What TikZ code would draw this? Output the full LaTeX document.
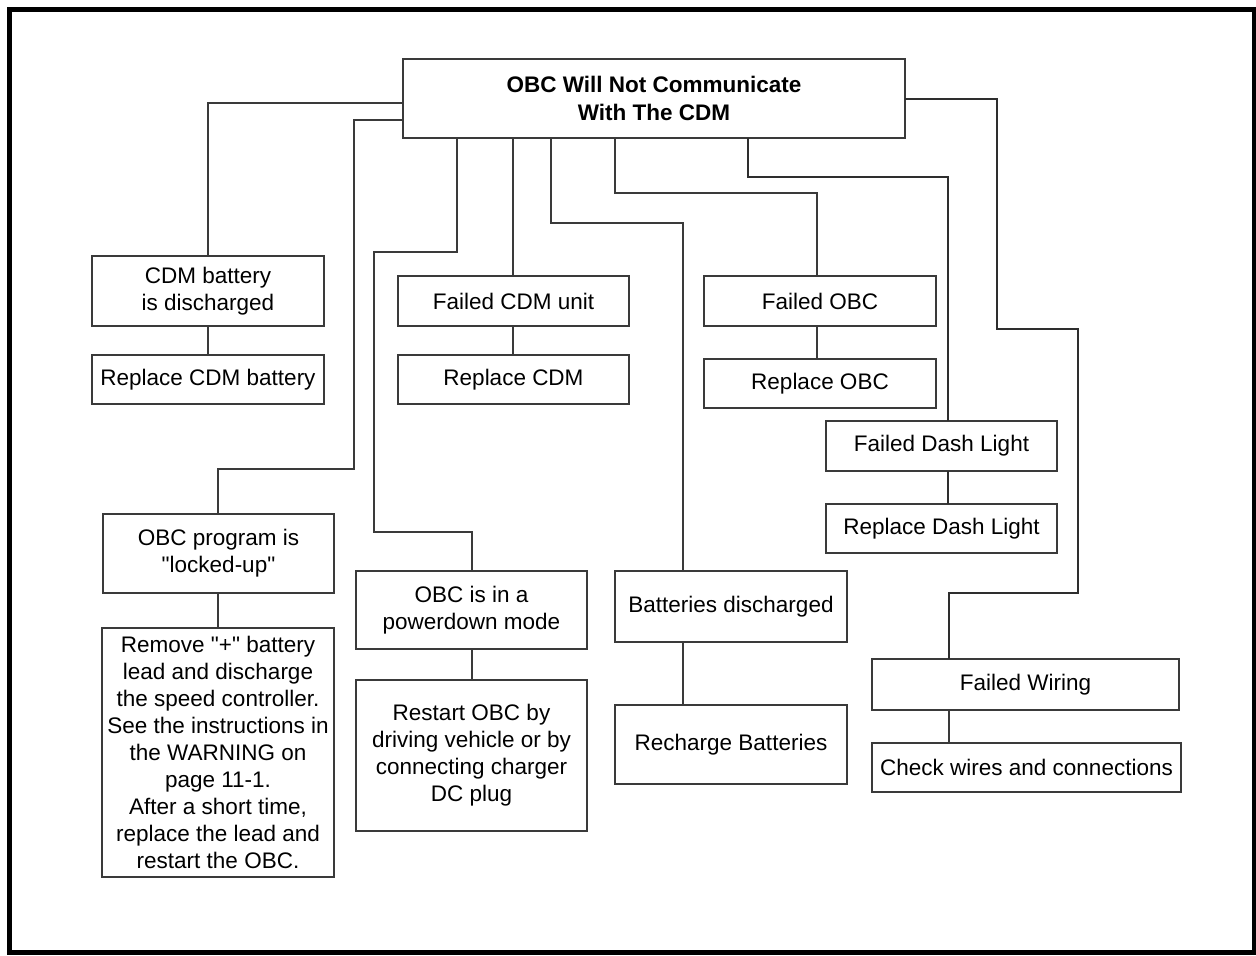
\documentclass[tikz,border=0pt]{standalone}
\usepackage{fontspec}
\setmainfont{Liberation Sans}[Ligatures=TeXOff]
\usetikzlibrary{calc}
\definecolor{ln}{HTML}{3A3A3A}
\newcommand\bx[6]{\node[box, minimum width={(#4-#2)*0.5pt}, minimum height={(#5-#3)*0.5pt}] (#1) at ({(#2+#4)/2},{(#3+#5)/2}) {#6};}
\begin{document}
\begin{tikzpicture}[x=0.5pt,y=-0.5pt,
  box/.style={draw=ln, line width=0.75pt, inner sep=0pt, outer sep=0pt, align=center,
    font=\fontsize{11.25pt}{13.5pt}\selectfont},
  conn/.style={draw=ln, line width=0.7pt},
  thick conn/.style={draw=ln!80!black, line width=1.05pt}]
\useasboundingbox (0,0) rectangle (1256,955);
\draw[line width=2.5pt, black] (9.5,9.5) rectangle (1254,952);

% boxes
\node[box, minimum width={502*0.5pt}, minimum height={79*0.5pt},
  font=\fontsize{11.25pt}{14pt}\selectfont\bfseries] (main) at (654,98.5)
  {OBC Will Not Communicate\\With The CDM};
\bx{cdmbat}{92}{256}{324}{326}{CDM battery\\is discharged}
\bx{repbat}{92}{355}{324}{404}{Replace CDM battery}
\bx{cdmunit}{398}{276}{629}{326}{Failed CDM unit}
\bx{repcdm}{398}{355}{629}{404}{Replace CDM}
\bx{fobc}{704}{276}{936}{326}{Failed OBC}
\bx{repobc}{704}{359}{936}{408}{Replace OBC}
\bx{dash}{826}{421}{1057}{471}{Failed Dash Light}
\bx{repdash}{826}{504}{1057}{553}{Replace Dash Light}
\bx{prog}{103}{514}{334}{593}{OBC program is\\"locked-up"}
\bx{remove}{102}{628}{334}{877}{Remove "+" battery\\lead and discharge\\the speed controller.\\See the instructions in\\the WARNING on\\page 11-1.\\After a short time,\\replace the lead and\\restart the OBC.}
\bx{power}{356}{571}{587}{649}{OBC is in a\\powerdown mode}
\bx{restart}{356}{680}{587}{831}{Restart OBC by\\driving vehicle or by\\connecting charger\\DC plug}
\bx{batt}{615}{571}{847}{642}{Batteries discharged}
\bx{rech}{615}{705}{847}{784}{Recharge Batteries}
\bx{wiring}{872}{659}{1179}{710}{Failed Wiring}
\bx{check}{872}{743}{1181}{792}{Check wires and connections}

% bend points
\coordinate (a1) at (208,103);
\coordinate (a2) at (354,120);
\coordinate (a2b) at (354,469);
\coordinate (a3) at (457,252);
\coordinate (a3b) at (374,252);
\coordinate (a3c) at (374,532);
\coordinate (a5) at (551,223);
\coordinate (a5b) at (683,223);
\coordinate (a6) at (615,193);
\coordinate (a6b) at (817,193);
\coordinate (a7) at (748,177);
\coordinate (a7b) at (948,177);
\coordinate (a8) at (997,99);
\coordinate (a8b) at (997,329);
\coordinate (a8c) at (1078,329);
\coordinate (a8d) at (1078,593);
\coordinate (a8e) at (949,593);
\coordinate (t2) at (218,0);
\coordinate (t3) at (472,0);
\coordinate (t4) at (513,0);

% connectors from main box
\draw[conn] (main.west |- a1) -| (cdmbat.north);
\draw[conn] (main.west |- a2) -- (a2) -- (a2b) -- (a2b -| t2) -- (t2 |- prog.north);
\draw[conn] (main.south -| a3) -- (a3) -- (a3b) -- (a3c) -- (a3c -| t3) -- (t3 |- power.north);
\draw[conn] (main.south -| t4) -- (t4 |- cdmunit.north);
\draw[conn] (main.south -| a5) -- (a5) -- (a5b) -- (a5b |- batt.north);
\draw[conn] (main.south -| a6) -- (a6) -- (a6b) -- (a6b |- fobc.north);
\draw[thick conn] (main.south -| a7) -- (a7) -- (a7b) -- (a7b |- dash.north);
\draw[thick conn] (main.east |- a8) -- (a8) -- (a8b) -- (a8c) -- (a8d) -- (a8e) -- (a8e |- wiring.north);

% box to box
\draw[conn] (cdmbat.south) -- (repbat.north);
\draw[conn] (cdmunit.south -| t4) -- (repcdm.north -| t4);
\draw[conn] (fobc.south -| a6b) -- (repobc.north -| a6b);
\draw[thick conn] (dash.south -| a7b) -- (repdash.north -| a7b);
\draw[conn] (prog.south -| t2) -- (remove.north -| t2);
\draw[conn] (power.south -| t3) -- (restart.north -| t3);
\draw[conn] (batt.south -| a5b) -- (rech.north -| a5b);
\draw[conn] (wiring.south -| a8e) -- (check.north -| a8e);
\end{tikzpicture}
\end{document}
